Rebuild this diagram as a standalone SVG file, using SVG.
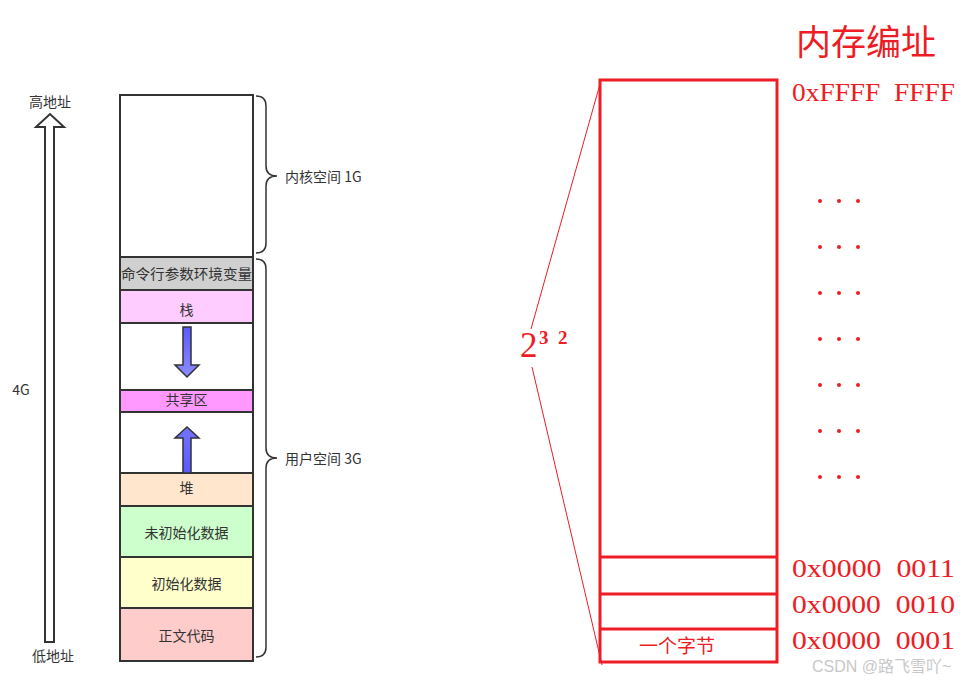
<svg xmlns="http://www.w3.org/2000/svg" width="973" height="684" viewBox="0 0 973 684">
<defs>
<style>
.seg{stroke:#333;stroke-width:2}
.lt{font-family:"Noto Sans CJK SC","Liberation Sans",sans-serif;font-size:14px;fill:#333;text-anchor:middle;dominant-baseline:central}
.br{fill:none;stroke:#333;stroke-width:1.5}
.red{fill:none;stroke:#ee1c24;stroke-width:3}
.addr{font-family:"Liberation Serif",serif;font-size:26px;fill:#ee1c24}
.dot{fill:#ee1c24}
</style>
<linearGradient id="blue" x1="0" y1="0" x2="0" y2="1">
<stop offset="0" stop-color="#5a5aff"/><stop offset="1" stop-color="#8c8cff"/>
</linearGradient>
<linearGradient id="blueUp" x1="0" y1="1" x2="0" y2="0">
<stop offset="0" stop-color="#5a5aff"/><stop offset="1" stop-color="#7373ff"/>
</linearGradient>
</defs>
<rect width="973" height="684" fill="#fff"/>

<g id="addr-arrow">
<path d="M45,642 L45,127 L36,127 L50,114 L64,127 L54,127 L54,642 Z" fill="#fff" stroke="#333" stroke-width="2"/>
<text class="lt" x="50" y="101">高地址</text>
<text class="lt" x="53" y="655">低地址</text>
<text class="lt" x="21" y="389">4G</text>
</g>

<g id="kernel"><rect class="seg" x="120" y="95" width="133" height="162" fill="#fff"/></g>
<g id="cmd"><rect class="seg" x="120" y="257" width="133" height="33" fill="#d0d0d0"/><text class="lt" x="186.5" y="273" font-size="14" textLength="131" lengthAdjust="spacingAndGlyphs">命令行参数环境变量</text></g>
<g id="stack"><rect class="seg" x="120" y="290" width="133" height="33" fill="#ffccff"/><text class="lt" x="186.5" y="309">栈</text></g>
<g id="gap1"><rect class="seg" x="120" y="323" width="133" height="67" fill="#fff"/></g>
<g id="shared"><rect class="seg" x="120" y="390" width="133" height="22" fill="#ff99ff"/><text class="lt" x="186.5" y="399">共享区</text></g>
<g id="gap2"><rect class="seg" x="120" y="412" width="133" height="61" fill="#fff"/></g>
<g id="heap"><rect class="seg" x="120" y="473" width="133" height="33" fill="#ffe6cc"/><text class="lt" x="186.5" y="487">堆</text></g>
<g id="bss"><rect class="seg" x="120" y="506" width="133" height="51" fill="#ccffcc"/><text class="lt" x="186.5" y="532">未初始化数据</text></g>
<g id="data"><rect class="seg" x="120" y="557" width="133" height="51" fill="#ffffcc"/><text class="lt" x="186.5" y="583">初始化数据</text></g>
<g id="text"><rect class="seg" x="120" y="608" width="133" height="53" fill="#ffcccc"/><text class="lt" x="186.5" y="635">正文代码</text></g>

<g id="connectors">
<path d="M183,327 L191,327 L191,365 L199,365 L187,377 L175,365 L183,365 Z" fill="url(#blue)" stroke="#333" stroke-width="1.5"/>
<path d="M183,473 L183,438 L175,438 L187,427 L199,438 L191,438 L191,473 Z" fill="url(#blueUp)" stroke="#333" stroke-width="1.5"/>
<path class="br" d="M256,96 Q266,96 266,106 L266,166 Q266,176 277,176 Q266,176 266,186 L266,243 Q266,253 256,253"/>
<path class="br" d="M256,259 Q266,259 266,269 L266,448 Q266,458 277,458 Q266,458 266,468 L266,647 Q266,657 256,657"/>
<line x1="600" y1="84" x2="531" y2="329" stroke="#ee1c24" stroke-width="1"/>
<line x1="532" y1="367" x2="602" y2="665" stroke="#ee1c24" stroke-width="1"/>
</g>

<g id="kernel-label"><text class="lt" x="285" y="176" style="text-anchor:start">内核空间 1G</text></g>
<g id="user-label"><text class="lt" x="285" y="458" style="text-anchor:start">用户空间 3G</text></g>

<g id="memory">
<rect class="red" x="600" y="80" width="177" height="582"/>
<line class="red" x1="600" y1="557" x2="777" y2="557"/>
<line class="red" x1="600" y1="594" x2="777" y2="594"/>
<line class="red" x1="600" y1="629" x2="777" y2="629"/>
<text x="677" y="653" font-family="Liberation Serif,Noto Sans CJK SC,serif" font-size="19" fill="#ee1c24" text-anchor="middle">一个字节</text>
</g>

<g id="title"><text x="866" y="55" font-family="Noto Sans CJK SC,sans-serif" font-size="35" fill="#ee1c24" text-anchor="middle">内存编址</text></g>

<g id="addresses">
<text class="addr" x="792" y="101" textLength="163" lengthAdjust="spacingAndGlyphs" xml:space="preserve">0xFFFF  FFFF</text>
<text class="addr" x="792" y="577" textLength="163" lengthAdjust="spacingAndGlyphs" xml:space="preserve">0x0000  0011</text>
<text class="addr" x="792" y="613" textLength="163" lengthAdjust="spacingAndGlyphs" xml:space="preserve">0x0000  0010</text>
<text class="addr" x="792" y="649" textLength="163" lengthAdjust="spacingAndGlyphs" xml:space="preserve">0x0000  0001</text>
</g>

<g id="dots">
<circle class="dot" cx="820" cy="201" r="2"/><circle class="dot" cx="839" cy="201" r="2"/><circle class="dot" cx="858" cy="201" r="2"/>
<circle class="dot" cx="820" cy="247" r="2"/><circle class="dot" cx="839" cy="247" r="2"/><circle class="dot" cx="858" cy="247" r="2"/>
<circle class="dot" cx="820" cy="293" r="2"/><circle class="dot" cx="839" cy="293" r="2"/><circle class="dot" cx="858" cy="293" r="2"/>
<circle class="dot" cx="820" cy="339" r="2"/><circle class="dot" cx="839" cy="339" r="2"/><circle class="dot" cx="858" cy="339" r="2"/>
<circle class="dot" cx="820" cy="385" r="2"/><circle class="dot" cx="839" cy="385" r="2"/><circle class="dot" cx="858" cy="385" r="2"/>
<circle class="dot" cx="820" cy="431" r="2"/><circle class="dot" cx="839" cy="431" r="2"/><circle class="dot" cx="858" cy="431" r="2"/>
<circle class="dot" cx="820" cy="477" r="2"/><circle class="dot" cx="839" cy="477" r="2"/><circle class="dot" cx="858" cy="477" r="2"/>
</g>

<g id="power">
<text x="520" y="357" font-family="Liberation Serif,serif" font-size="35" fill="#ee1c24">2</text>
<text x="539" y="344" font-family="Liberation Serif,serif" font-size="19" font-weight="bold" fill="#ee1c24">3</text>
<text x="558" y="344" font-family="Liberation Serif,serif" font-size="19" font-weight="bold" fill="#ee1c24">2</text>
</g>

<g id="watermark"><text x="812" y="672" font-family="Liberation Sans,Noto Sans CJK SC,sans-serif" font-size="16" fill="#c8c8c8">CSDN @路飞雪吖~</text></g>
</svg>
